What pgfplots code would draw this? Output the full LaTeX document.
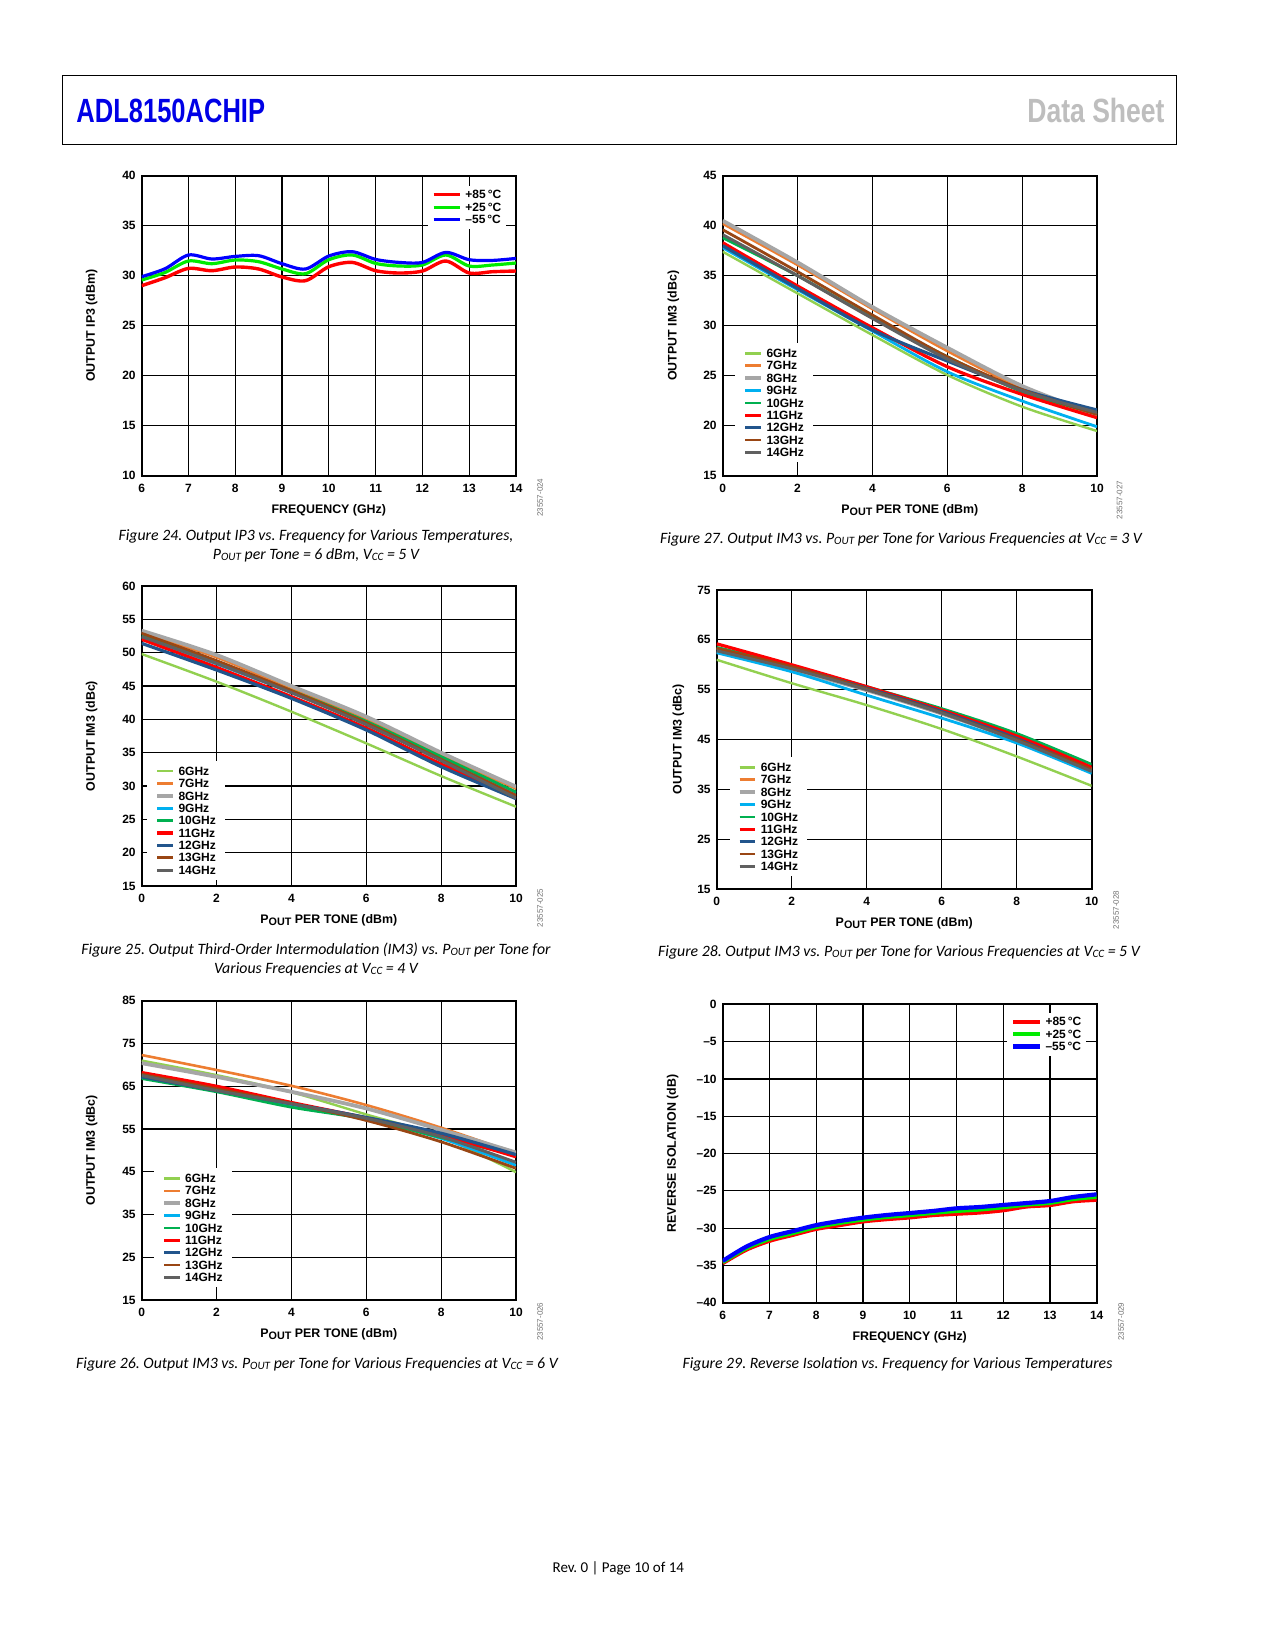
\documentclass[border=0pt]{standalone}
\usepackage{fontspec}
\setmainfont{Liberation Sans}
\newfontfamily\capfont{Carlito}
\usepackage{graphicx}
\usepackage{pgfplots}
\usepackage{pgfplotstable}
\pgfplotsset{compat=1.18}
\frenchspacing

\definecolor{adiblue}{RGB}{0,0,230}
\definecolor{dsgray}{RGB}{190,190,190}
\definecolor{c6}{RGB}{146,208,80}
\definecolor{c7}{RGB}{237,125,49}
\definecolor{c8}{RGB}{166,166,166}
\definecolor{c9}{RGB}{0,176,240}
\definecolor{c10}{RGB}{0,176,80}
\definecolor{c11}{RGB}{255,0,0}
\definecolor{c12}{RGB}{34,85,140}
\definecolor{c13}{RGB}{153,70,20}
\definecolor{c14}{RGB}{96,96,96}
\definecolor{tr}{RGB}{255,0,0}
\definecolor{tg}{RGB}{0,235,0}
\definecolor{tb}{RGB}{0,0,255}

\newcommand\tickfont{\fontsize{6}{7}\selectfont\bfseries}
\newcommand\labfont{\fontsize{6.2}{7}\selectfont\bfseries}
\newcommand\capsub[1]{\raisebox{-0.2ex}{\fontsize{5.6}{6}\selectfont #1}}
\newcommand\labsub[1]{\raisebox{-0.9pt}{\fontsize{5.4}{6}\selectfont #1}}
\newcommand\capf{\capfont\itshape\fontsize{7.9}{9}\selectfont\frenchspacing}

% Fig 24: output IP3 vs frequency
\pgfplotstableread{
f r g b
6 29.0 29.57 29.9
6.5 29.8 30.33 30.7
7 30.73 31.47 32.07
7.5 30.5 31.2 31.67
8 30.87 31.57 31.93
8.5 30.67 31.4 32.0
9 29.87 30.67 31.2
9.5 29.5 30.2 30.67
10 30.9 31.6 31.97
10.5 31.33 32.07 32.4
11 30.5 31.23 31.63
11.5 30.27 30.97 31.33
12 30.47 31.07 31.33
12.5 31.47 32.07 32.33
13 30.27 30.97 31.6
13.5 30.4 31.07 31.53
14 30.47 31.27 31.73
}\tabA

% Fig 27: IM3 at 3 V
\pgfplotstableread{
p a6 a7 a8 a9 a10 a11 a12 a13 a14
0 37.4 40.2 40.5 37.8 38.8 38.3 38.0 39.6 39.1
2 33.23 36.07 36.33 33.6 35.0 33.97 33.73 35.4 35.0
4 29.07 31.67 31.87 29.47 30.8 29.8 29.57 31.07 30.73
6 25.07 27.47 27.8 25.4 26.9 25.9 26.47 26.9 26.67
8 21.9 23.73 23.97 22.47 23.4 23.13 23.6 23.6 23.5
10 19.47 21.0 21.1 19.9 21.2 20.8 21.57 21.13 21.33
}\tabB

% Fig 25: IM3 at 4 V
\pgfplotstableread{
p a6 a7 a8 a9 a10 a11 a12 a13 a14
0 49.8 53.0 53.3 52.3 52.6 52.0 51.4 52.9 52.4
2 45.65 49.3 49.65 48.3 48.6 47.8 47.4 48.8 48.4
4 41.15 44.6 45.0 44.0 44.3 43.4 43.15 44.3 44.0
6 36.4 40.0 40.4 39.4 39.7 38.7 38.4 39.5 39.2
8 31.5 34.6 35.0 34.2 34.4 33.3 32.9 34.0 33.8
10 26.9 29.6 29.9 29.0 29.1 28.5 28.1 28.6 28.2
}\tabC

% Fig 28: IM3 at 5 V
\pgfplotstableread{
p a6 a7 a8 a9 a10 a11 a12 a13 a14
0 61.0 63.2 62.6 62.4 63.5 64.2 63.0 63.3 62.8
2 56.3 59.6 59.0 58.6 59.8 60.0 59.5 59.6 59.2
4 51.9 55.3 54.9 53.9 55.6 55.6 55.3 55.2 55.0
6 47.1 50.6 50.2 49.3 51.2 50.9 50.6 50.4 50.3
8 41.6 45.3 44.9 44.3 46.2 45.7 45.2 45.0 44.8
10 35.7 39.2 38.8 38.2 40.0 39.4 38.8 39.0 38.6
}\tabD

% Fig 26: IM3 at 6 V
\pgfplotstableread{
p a6 a7 a8 a9 a10 a11 a12 a13 a14
0 71.0 72.3 70.4 67.0 66.8 68.2 67.2 67.8 67.5
2 67.6 68.8 67.2 63.9 63.7 65.0 64.0 64.4 64.0
4 63.6 65.1 63.7 60.5 60.1 61.2 60.9 61.0 60.9
6 58.4 60.6 59.8 57.3 57.3 57.6 57.7 57.0 57.5
8 53.2 55.3 54.8 52.8 53.0 53.6 54.0 52.0 53.2
10 44.9 49.3 49.5 46.5 48.9 48.5 49.0 45.8 47.2
}\tabE

% Fig 29: reverse isolation
\pgfplotstableread{
f r g b
6 -34.7 -34.55 -34.4
6.5 -32.9 -32.7 -32.5
7 -31.7 -31.45 -31.2
7.5 -30.9 -30.65 -30.4
8 -30.1 -29.85 -29.6
8.5 -29.6 -29.3 -29.05
9 -29.1 -28.85 -28.6
9.5 -28.8 -28.5 -28.25
10 -28.56 -28.25 -27.98
10.5 -28.25 -27.95 -27.7
11 -28.07 -27.7 -27.35
11.5 -27.9 -27.5 -27.17
12 -27.6 -27.2 -26.9
12.5 -27.1 -26.85 -26.64
13 -26.9 -26.6 -26.37
13.5 -26.4 -26.1 -25.83
14 -26.2 -25.8 -25.47
}\tabF

\pgfplotsset{
  adibase/.style={
    scale only axis, anchor=south west,
    grid=major,
    major grid style={line width=0.6pt, black},
    axis line style={line width=1.1pt, black},
    major tick length=0pt,
    tick style={draw=none},
    tick label style={font=\tickfont},
    /pgf/number format/assume math mode=true,
    xticklabel style={anchor=base, yshift=-8.3pt, inner sep=0pt},
    yticklabel style={anchor=east, xshift=-2.85pt, inner sep=0pt},
    xlabel style={at={(axis description cs:0.5,-0.1253)}, anchor=base, font=\labfont},
    ylabel style={anchor=center, font=\labfont},
    legend cell align=left,
  },
  imleg/.style={
    legend style={draw=none, fill=white, font=\tickfont, inner xsep=4pt, inner ysep=2.4pt,
      row sep=1pt, column sep=1.35pt, nodes={inner sep=0.5pt, text depth=0pt},
      cells={anchor=west}, anchor=north west, at={#1}},
    legend image code/.code={\draw[##1] (0pt,0pt) -- (7.8pt,0pt);},
  },
  tleg/.style={
    legend style={draw=none, fill=white, font=\tickfont, inner xsep=2pt, inner ysep=2pt,
      row sep=1pt, column sep=1.3pt, nodes={inner sep=0.5pt, text depth=0pt},
      cells={anchor=west}, anchor=south east, at={#1}},
    legend image code/.code={\draw[##1] (0pt,0pt) -- (13.3pt,0pt);},
  },
  s6/.style={color=c6, line width=1.2pt, smooth},
  s7/.style={color=c7, line width=1.3pt, smooth},
  s8/.style={color=c8, line width=1.9pt, smooth},
  s9/.style={color=c9, line width=1.4pt, smooth},
  s10/.style={color=c10, line width=1.4pt, smooth},
  s11/.style={color=c11, line width=1.6pt, smooth},
  s12/.style={color=c12, line width=1.6pt, smooth},
  s13/.style={color=c13, line width=1.4pt, smooth},
  s14/.style={color=c14, line width=1.5pt, smooth},
}

\newcommand\imthree[1]{%
  \addplot[s6] table[x=p,y=a6]{#1};
  \addplot[s7] table[x=p,y=a7]{#1};
  \addplot[s8] table[x=p,y=a8]{#1};
  \addplot[s9] table[x=p,y=a9]{#1};
  \addplot[s10] table[x=p,y=a10]{#1};
  \addplot[s11] table[x=p,y=a11]{#1};
  \addplot[s12] table[x=p,y=a12]{#1};
  \addplot[s13] table[x=p,y=a13]{#1};
  \addplot[s14] table[x=p,y=a14]{#1};
  \legend{6GHz,7GHz,8GHz,9GHz,10GHz,11GHz,12GHz,13GHz,14GHz}
}

\begin{document}
\begin{tikzpicture}
\fill[white] (0,0) rectangle (637.5pt,-825pt);

% header
\draw[line width=0.5pt] (31pt,-37.5pt) rectangle (588pt,-72pt);
\node[anchor=base west, inner sep=0pt, text=adiblue] at (38pt,-61.15pt)
  {\scalebox{0.76}[1]{\fontsize{16.8}{18}\selectfont\bfseries ADL8150ACHIP}};
\node[anchor=base east, inner sep=0pt, text=dsgray] at (582.5pt,-61.15pt)
  {\scalebox{0.79}[1]{\fontsize{16.8}{18}\selectfont\bfseries Data Sheet}};

% Figure 24
\begin{axis}[adibase, at={(70.85pt,-237.85pt)}, width=187.15pt, height=150pt,
  xmin=6, xmax=14, ymin=10, ymax=40, xtick={6,...,14}, ytick={10,15,...,40},
  xlabel={FREQUENCY (GHz)}, ylabel={OUTPUT IP3 (dBm)},
  ylabel style={at={(axis description cs:-0.1336,0.5)}},
  tleg={(0.975,0.822)}]
\addplot[tr, line width=1.7pt, smooth] table[x=f,y=r]{\tabA};
\addplot[tg, line width=1.6pt, smooth] table[x=f,y=g]{\tabA};
\addplot[tb, line width=1.6pt, smooth] table[x=f,y=b]{\tabA};
\legend{{+85\,°C},{+25\,°C},{–55\,°C}}
\end{axis}

% Figure 27
\begin{axis}[adibase, at={(361.35pt,-237.85pt)}, width=187.15pt, height=150pt,
  xmin=0, xmax=10, ymin=15, ymax=45, xtick={0,2,...,10}, ytick={15,20,...,45},
  xlabel={P\labsub{OUT} PER TONE (dBm)}, ylabel={OUTPUT IM3 (dBc)},
  ylabel style={at={(axis description cs:-0.132,0.5)}},
  imleg={(0.0329,0.4423)}]
\imthree{\tabB}
\end{axis}

% Figure 25
\begin{axis}[adibase, at={(70.85pt,-443pt)}, width=187.15pt, height=150pt,
  xmin=0, xmax=10, ymin=15, ymax=60, xtick={0,2,...,10}, ytick={15,20,...,60},
  xlabel={P\labsub{OUT} PER TONE (dBm)}, ylabel={OUTPUT IM3 (dBc)},
  ylabel style={at={(axis description cs:-0.1336,0.5)}},
  imleg={(0.0142,0.4177)}]
\imthree{\tabC}
\end{axis}

% Figure 28
\begin{axis}[adibase, at={(358.35pt,-444.5pt)}, width=187.5pt, height=149.5pt,
  xmin=0, xmax=10, ymin=15, ymax=75, xtick={0,2,...,10}, ytick={15,25,...,75},
  xlabel={P\labsub{OUT} PER TONE (dBm)}, ylabel={OUTPUT IM3 (dBc)},
  ylabel style={at={(axis description cs:-0.1024,0.5)}},
  imleg={(0.0336,0.4415)}]
\imthree{\tabD}
\end{axis}

% Figure 26
\begin{axis}[adibase, at={(70.85pt,-650pt)}, width=187.15pt, height=149.65pt,
  xmin=0, xmax=10, ymin=15, ymax=85, xtick={0,2,...,10}, ytick={15,25,...,85},
  xlabel={P\labsub{OUT} PER TONE (dBm)}, ylabel={OUTPUT IM3 (dBc)},
  ylabel style={at={(axis description cs:-0.1336,0.5)}},
  imleg={(0.0321,0.441)}]
\imthree{\tabE}
\end{axis}

% Figure 29
\begin{axis}[adibase, at={(361.35pt,-651.35pt)}, width=187pt, height=149.2pt,
  xmin=6, xmax=14, ymin=-40, ymax=0, xtick={6,...,14}, ytick={-40,-35,...,0},
  yticklabels={–40,–35,–30,–25,–20,–15,–10,–5,0},
  xlabel={FREQUENCY (GHz)}, ylabel={REVERSE ISOLATION (dB)},
  ylabel style={at={(axis description cs:-0.1337,0.5)}},
  tleg={(0.9733,0.8267)}]
\addplot[tr, line width=2.1pt, smooth] table[x=f,y=r]{\tabF};
\addplot[tg, line width=2.1pt, smooth] table[x=f,y=g]{\tabF};
\addplot[tb, line width=2.1pt, smooth] table[x=f,y=b]{\tabF};
\legend{{+85\,°C},{+25\,°C},{–55\,°C}}
\end{axis}

% captions
\node[anchor=base, inner sep=0pt, font=\capf] at (158pt,-270pt)
  {Figure 24. Output IP3 vs. Frequency for Various Temperatures,};
\node[anchor=base, inner sep=0pt, font=\capf] at (158pt,-279.5pt)
  {P\capsub{OUT} per Tone = 6 dBm, V\capsub{CC} = 5 V};
\node[anchor=base, inner sep=0pt, font=\capf] at (450.5pt,-271.5pt)
  {Figure 27. Output IM3 vs. P\capsub{OUT} per Tone for Various Frequencies at V\capsub{CC} = 3 V};
\node[anchor=base, inner sep=0pt, font=\capf] at (158pt,-477pt)
  {Figure 25. Output Third-Order Intermodulation (IM3) vs. P\capsub{OUT} per Tone for};
\node[anchor=base, inner sep=0pt, font=\capf] at (158pt,-486.5pt)
  {Various Frequencies at V\capsub{CC} = 4 V};
\node[anchor=base, inner sep=0pt, font=\capf] at (449.5pt,-478pt)
  {Figure 28. Output IM3 vs. P\capsub{OUT} per Tone for Various Frequencies at V\capsub{CC} = 5 V};
\node[anchor=base, inner sep=0pt, font=\capf] at (158.5pt,-684pt)
  {Figure 26. Output IM3 vs. P\capsub{OUT} per Tone for Various Frequencies at V\capsub{CC} = 6 V};
\node[anchor=base, inner sep=0pt, font=\capf] at (448.75pt,-684pt)
  {Figure 29. Reverse Isolation vs. Frequency for Various Temperatures};

% side codes
\foreach \xx/\yy/\tt in {270/-248.85/23557-024, 559.75/-250/23557-027, 270/-454/23557-025,
  558/-455/23557-028, 270/-660.85/23557-026, 560.5/-660.85/23557-029}
  \node[rotate=90, inner sep=0pt, text=black!55, font=\fontsize{4}{5}\selectfont] at (\xx pt,\yy pt) {\tt};

% footer
\node[anchor=base, inner sep=0pt, font=\capfont\fontsize{7.5}{9}\selectfont] at (309.15pt,-786pt)
  {Rev. 0 | Page 10 of 14};

\pgfresetboundingbox
\path[use as bounding box] (0,0) rectangle (637.5pt,-825pt);
\end{tikzpicture}
\end{document}
